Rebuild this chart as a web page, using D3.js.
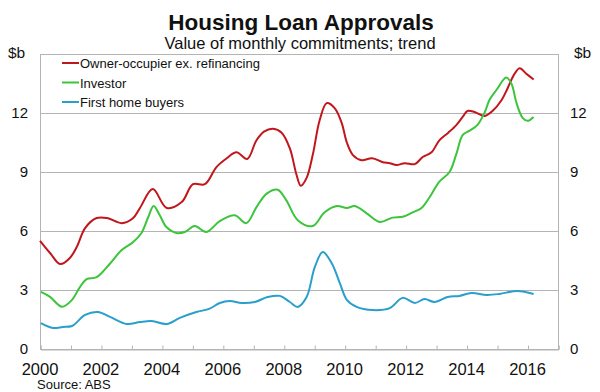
<!DOCTYPE html>
<html>
<head>
<meta charset="utf-8">
<script src="https://cdn.jsdelivr.net/npm/d3@7"></script>
<style>
  html, body { margin: 0; padding: 0; background: #fff; }
  svg { display: block; font-family: "Liberation Sans", Arial, sans-serif; }
</style>
</head>
<body>
<svg id="chart" width="600" height="392"></svg>
<script>
// ---- Data (decimal year, $b) ----
const ownerOccupier = [
  [2000.00, 5.5], [2000.33, 4.88], [2000.66, 4.32], [2000.98, 4.63], [2001.21, 5.2],
  [2001.48, 6.15], [2001.86, 6.66], [2002.20, 6.66], [2002.68, 6.4], [2003.05, 6.65],
  [2003.28, 7.17], [2003.70, 8.13], [2004.16, 7.17], [2004.65, 7.47], [2005.02, 8.38],
  [2005.41, 8.38], [2005.79, 9.25], [2006.13, 9.7], [2006.45, 10.0], [2006.80, 9.66],
  [2007.10, 10.6], [2007.35, 11.05], [2007.65, 11.2], [2007.93, 11.0], [2008.20, 10.2],
  [2008.42, 8.85], [2008.56, 8.3], [2008.75, 8.7], [2008.95, 9.86], [2009.18, 11.64],
  [2009.41, 12.5], [2009.67, 12.25], [2009.90, 11.5], [2010.07, 10.5], [2010.27, 9.86],
  [2010.55, 9.6], [2010.90, 9.7], [2011.25, 9.5], [2011.48, 9.45], [2011.70, 9.35],
  [2011.97, 9.45], [2012.30, 9.4], [2012.56, 9.76], [2012.85, 10.0], [2013.10, 10.6],
  [2013.40, 11.0], [2013.67, 11.4], [2013.87, 11.8], [2014.03, 12.1], [2014.26, 12.05],
  [2014.60, 11.85], [2014.85, 12.1], [2015.15, 12.66], [2015.35, 13.27], [2015.54, 13.9],
  [2015.74, 14.28], [2015.96, 14.0], [2016.20, 13.7]
];
const investor = [
  [2000.03, 2.9], [2000.33, 2.65], [2000.72, 2.15], [2001.05, 2.5], [2001.31, 3.15],
  [2001.53, 3.55], [2001.86, 3.65], [2002.30, 4.35], [2002.68, 5.03], [2003.05, 5.43],
  [2003.33, 5.9], [2003.55, 6.7], [2003.73, 7.27], [2003.93, 6.8], [2004.15, 6.2],
  [2004.48, 5.9], [2004.75, 5.95], [2005.08, 6.25], [2005.46, 5.95], [2005.90, 6.5],
  [2006.39, 6.8], [2006.77, 6.4], [2007.10, 7.2], [2007.44, 7.9], [2007.80, 8.1],
  [2008.08, 7.57], [2008.46, 6.55], [2008.95, 6.25], [2009.34, 6.95], [2009.74, 7.27],
  [2010.07, 7.17], [2010.33, 7.27], [2010.72, 6.9], [2011.15, 6.46], [2011.57, 6.68],
  [2011.90, 6.72], [2012.23, 6.95], [2012.52, 7.17], [2012.79, 7.73], [2013.10, 8.5],
  [2013.44, 9.0], [2013.67, 9.95], [2013.87, 10.88], [2014.10, 11.1], [2014.36, 11.4],
  [2014.60, 12.05], [2014.75, 12.66], [2014.98, 13.17], [2015.30, 13.8], [2015.47, 13.5],
  [2015.64, 12.5], [2015.84, 11.75], [2016.00, 11.6], [2016.20, 11.8]
];
const firstHomeBuyers = [
  [2000.03, 1.32], [2000.43, 1.07], [2000.75, 1.12], [2001.05, 1.17], [2001.48, 1.73],
  [2001.90, 1.88], [2002.30, 1.63], [2002.85, 1.27], [2003.28, 1.37], [2003.67, 1.42],
  [2004.16, 1.27], [2004.59, 1.58], [2005.13, 1.88], [2005.57, 2.05], [2005.90, 2.34],
  [2006.23, 2.44], [2006.62, 2.34], [2007.05, 2.39], [2007.47, 2.64], [2007.87, 2.7],
  [2008.20, 2.39], [2008.46, 2.14], [2008.75, 2.64], [2009.02, 4.17], [2009.28, 4.93],
  [2009.57, 4.37], [2009.84, 3.35], [2010.07, 2.5], [2010.39, 2.14], [2010.92, 1.98],
  [2011.48, 2.08], [2011.90, 2.6], [2012.30, 2.34], [2012.62, 2.54], [2012.95, 2.39],
  [2013.38, 2.64], [2013.77, 2.7], [2014.16, 2.85], [2014.66, 2.75], [2015.08, 2.8],
  [2015.67, 2.95], [2016.20, 2.8]
];
const seriesNames = ["Owner-occupier ex. refinancing", "Investor", "First home buyers"];
const seriesColors = ["#c0161c", "#3cc43c", "#2a9fcb"];
const yTicks = [0, 3, 6, 9, 12];
const xTickLabels = [2000, 2002, 2004, 2006, 2008, 2010, 2012, 2014, 2016];
const xMinorTicks = d3.range(2000, 2018);

// ---- Layout ----
const svg = d3.select("#chart");
const plotL = 40, plotR = 558, plotT = 54, plotB = 349;
const x = d3.scaleLinear().domain([2000, 2017]).range([plotL, plotR]);
const y = d3.scaleLinear().domain([0, 15]).range([plotB, plotT]);
const grid = "#b4b4b4";

// gridlines
svg.append("g").selectAll("line").data(yTicks.filter(d => d > 0)).join("line")
  .attr("x1", plotL).attr("x2", plotR)
  .attr("y1", d => y(d) + 0.5).attr("y2", d => y(d) + 0.5)
  .attr("stroke", grid).attr("stroke-width", 1);

// frame
svg.append("rect").attr("x", plotL + 0.5).attr("y", plotT + 0.5)
  .attr("width", plotR - plotL).attr("height", plotB - plotT)
  .attr("fill", "none").attr("stroke", grid).attr("stroke-width", 1);

// x axis minor ticks (upward)
const xAxis = d3.axisTop(x).tickValues(xMinorTicks).tickSize(4).tickFormat("");
const gx = svg.append("g").attr("transform", `translate(0.5,${plotB + 0.5})`).call(xAxis);
gx.select(".domain").attr("stroke", grid);
gx.selectAll(".tick line").attr("stroke", grid);

// x labels
svg.append("g").selectAll("text").data(xTickLabels).join("text")
  .attr("x", d => x(d)).attr("y", 375)
  .attr("text-anchor", "middle").attr("font-size", 16.5).attr("fill", "#111")
  .text(d => d);

// y labels left and right
svg.append("g").selectAll("text").data(yTicks).join("text")
  .attr("x", 28).attr("y", d => y(d) + 5)
  .attr("text-anchor", "end").attr("font-size", 15).attr("fill", "#111")
  .text(d => d);
svg.append("g").selectAll("text").data(yTicks).join("text")
  .attr("x", 570).attr("y", d => y(d) + 5)
  .attr("text-anchor", "start").attr("font-size", 15).attr("fill", "#111")
  .text(d => d);
svg.append("text").attr("x", 8).attr("y", 58).attr("font-size", 15.5).attr("fill", "#111").text("$b");
svg.append("text").attr("x", 574).attr("y", 58).attr("font-size", 15.5).attr("fill", "#111").text("$b");

// titles
svg.append("text").attr("x", 301).attr("y", 30).attr("text-anchor", "middle")
  .attr("font-size", 22.5).attr("font-weight", "bold").attr("fill", "#111")
  .text("Housing Loan Approvals");
svg.append("text").attr("x", 300).attr("y", 49).attr("text-anchor", "middle")
  .attr("font-size", 16.5).attr("fill", "#111")
  .text("Value of monthly commitments; trend");

// source
svg.append("text").attr("x", 37).attr("y", 389).attr("font-size", 13).attr("fill", "#111")
  .text("Source: ABS");

// lines
const line = d3.line().x(d => x(d[0])).y(d => y(d[1])).curve(d3.curveCatmullRom.alpha(0.5));
const allSeries = [ownerOccupier, investor, firstHomeBuyers];
svg.append("g").selectAll("path").data(allSeries).join("path")
  .attr("d", d => line(d))
  .attr("fill", "none")
  .attr("stroke", (d, i) => seriesColors[i])
  .attr("stroke-width", 2)
  .attr("stroke-linejoin", "round");

// legend
const leg = svg.append("g").selectAll("g").data(seriesNames).join("g")
  .attr("transform", (d, i) => `translate(62,${63 + i * 19.5})`);
leg.append("line").attr("x1", 0).attr("x2", 17).attr("y1", 0).attr("y2", 0)
  .attr("stroke", (d, i) => seriesColors[i]).attr("stroke-width", 2);
leg.append("text").attr("x", 18).attr("y", 5).attr("font-size", 13).attr("fill", "#111")
  .text(d => d);
</script>
</body>
</html>
